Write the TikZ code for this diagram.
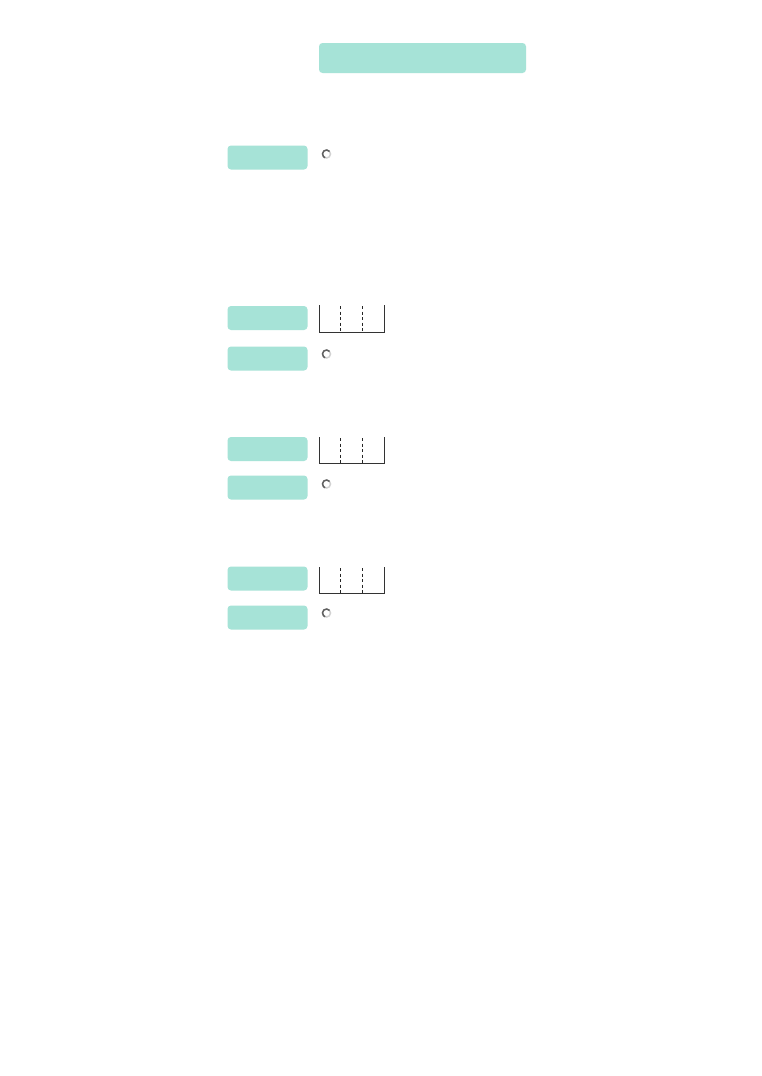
\documentclass[tikz,border=0pt]{standalone}
\begin{document}
\begin{tikzpicture}[x=1pt,y=-1pt,
  tealbox/.style={fill=teal0, draw=none, rounded corners=3.5pt, inner sep=0pt},
  bracketline/.style={line width=1pt, black!80},
  dashline/.style={line width=0.9pt, black!85, dash pattern=on 3pt off 2.5pt},
  ringlight/.style={line width=1.5pt, gray!35},
  ringdark/.style={line width=1.5pt, gray!75!black}]
\definecolor{teal0}{HTML}{A6E3D7}
\useasboundingbox (0,0) rectangle (761,1076);
\path[fill=white] (0,0) rectangle (761,1076);
% title
\node[tealbox, minimum width=207pt, minimum height=30pt] (title) at (422.5,58) {};
% row boxes
\foreach \n/\y in {a/157.5, b/318, c/358.5, d/449, e/487.5, f/578.5, g/617.5}{
  \node[tealbox, minimum width=80pt, minimum height=24pt] (box\n) at (267.5,\y) {};
}
% radio circles
\foreach \n/\y in {a/154, c/354, e/484, g/613}{
  \coordinate (rc\n) at (326.5,\y);
  \draw[ringlight] (rc\n) circle (4pt);
  \draw[ringdark] ([shift={(40:4pt)}]rc\n) arc (40:250:4pt);
}
% brackets
\foreach \n/\t/\b in {b/305/332, d/437/463, f/567/593}{
  \coordinate (tl\n) at (319,\t);
  \coordinate (bl\n) at (319,\b);
  \coordinate (br\n) at (384,\b);
  \coordinate (tr\n) at (384,\t);
  \draw[bracketline] (tl\n) -- (bl\n) -- (br\n) -- (tr\n);
  \draw[dashline] (340.5,\t+1) -- (340.5,\b);
  \draw[dashline] (362,\t+1) -- (362,\b);
}
\end{tikzpicture}
\end{document}
